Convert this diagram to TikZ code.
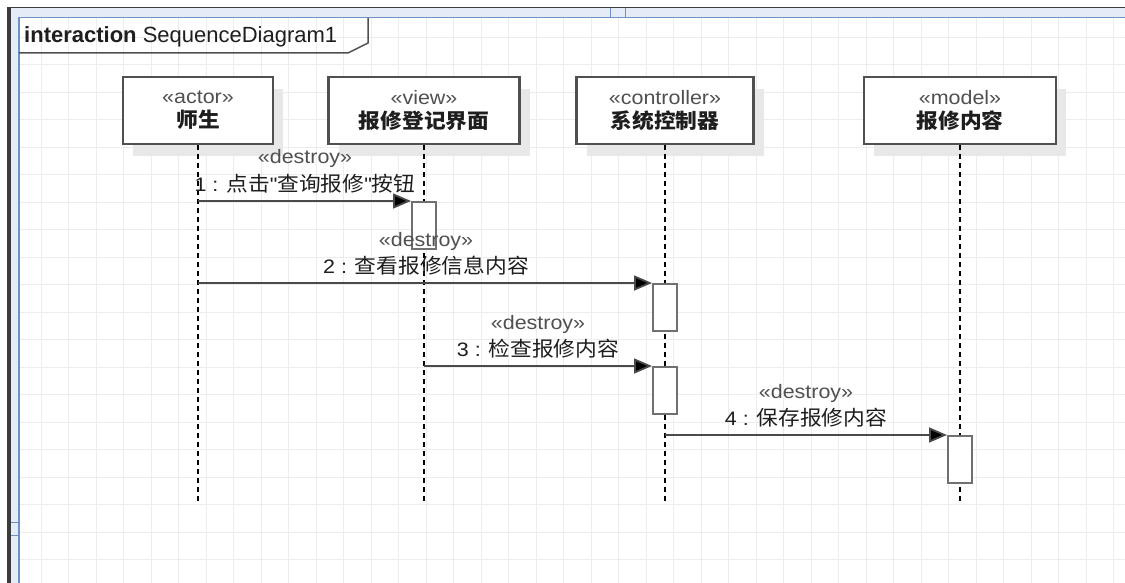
\documentclass[tikz,border=0pt]{standalone}
\usepackage{fontspec}
\setmainfont{Liberation Sans}
\newfontfamily\lat[FakeStretch=1.1]{Liberation Sans}
\newfontfamily\cjk[FakeStretch=1.06]{Noto Sans CJK SC}
\usetikzlibrary{arrows.meta,shadows}
\definecolor{gridc}{HTML}{EDEDF0}
\definecolor{bandc}{HTML}{E3ECF7}
\definecolor{bluec}{HTML}{7090C8}
\definecolor{darkc}{HTML}{3C3C3C}
\definecolor{boxc}{HTML}{505050}
\definecolor{actc}{HTML}{707070}
\definecolor{msgc}{HTML}{4A4A4A}
\definecolor{txtc}{HTML}{1E1E1E}
\definecolor{stc}{HTML}{505050}
\definecolor{shc}{HTML}{E8E8E8}
\newcommand\zhs[1]{{\cjk\fontsize{20.5}{24}\selectfont #1}}
\newcommand\las[1]{{\lat\fontsize{19.5}{24}\selectfont #1}}
\tikzset{
  head/.style={draw=boxc, line width=2.2pt, fill=white, minimum height=67pt,
    inner sep=0pt, align=center, text=txtc, font=\fontsize{20}{24}\selectfont,
    drop shadow={shadow xshift=10pt, shadow yshift=-12pt, fill=shc, opacity=1}},
  life/.style={draw=black, line width=1.3pt, dash pattern=on 5pt off 4pt},
  actbox/.style={draw=actc, line width=2pt, fill=white, minimum width=24pt,
    minimum height=47pt, inner sep=0pt, anchor=north},
  msg/.style={draw=msgc, line width=1.8pt, -{Triangle[length=18pt,width=15pt,fill=black]}},
  lab/.style={anchor=base, inner sep=0pt, text=txtc},
  stlab/.style={anchor=base, inner sep=0pt, text=stc}
}
\begin{document}
\begin{tikzpicture}[x=1pt,y=-1pt]
\useasboundingbox (0,0) rectangle (1125,583);
\fill[white] (0,0) rectangle (1125,583);
% grid
\foreach \i in {0,...,40} {\draw[gridc, line width=0.9pt] ({13.5+27.5*\i},18) -- ({13.5+27.5*\i},583);}
\foreach \j in {1,...,21} {\draw[gridc, line width=0.9pt] (18,{9.5+27.5*\j}) -- (1125,{9.5+27.5*\j});}
% window chrome
\fill[bandc] (7,7) rectangle (1125,18);
\fill[bandc] (7,7) rectangle (19,583);
\fill[darkc] (7,7) rectangle (11,583);
\draw[darkc, line width=1.5pt] (7,7.6) -- (1125,7.6);
\draw[bluec, line width=1.8pt] (19,17.5) -- (1125,17.5);
\draw[bluec, line width=1.8pt] (19,17.5) -- (19,583);
\draw[bluec, line width=1pt] (610,8) -- (610,17) (625,8) -- (625,17);
\draw[bluec, line width=1pt] (11,522) -- (18,522) (11,535) -- (18,535);
% interaction frame tab
\node[anchor=base west, inner sep=0pt, text=txtc, font=\fontsize{22}{24}\selectfont] (title) at (24,43) {\textbf{interaction} SequenceDiagram1};
\draw[boxc, line width=1.5pt] (19,53) -- (348,53) -- (368,43) -- (368,18);
% lifeline heads
\node[head, minimum width=150pt] (a) at (198,110.5) {{\color{stc}\las{«actor»}}\\\zhs{\bfseries 师生}};
\node[head, minimum width=191pt] (v) at (424,110.5) {{\color{stc}\las{«view»}}\\\zhs{\bfseries 报修登记界面}};
\node[head, minimum width=177pt] (c) at (665,110.5) {{\color{stc}\las{«controller»}}\\\zhs{\bfseries 系统控制器}};
\node[head, minimum width=192pt] (m) at (960,110.5) {{\color{stc}\las{«model»}}\\\zhs{\bfseries 报修内容}};
% lifelines
\coordinate (aend) at (198,502);
\coordinate (vend) at (424,502);
\coordinate (cend) at (665,502);
\coordinate (mend) at (960,502);
\draw[life] (a.south) -- (aend);
\draw[life] (v.south) -- (vend);
\draw[life] (c.south) -- (cend);
\draw[life] (m.south) -- (mend);
% activations
\node[actbox] (act1) at (424,201) {};
\node[actbox] (act2) at (665,283) {};
\node[actbox] (act3) at (665,366) {};
\node[actbox] (act4) at (960,435) {};
% messages
\draw[msg] (a.south |- act1.north) -- (act1.north west);
\draw[msg] (a.south |- act2.north) -- (act2.north west);
\draw[msg] (v.south |- act3.north) -- (act3.north west);
\draw[msg] (c.south |- act4.north) -- (act4.north west);
% labels
\node[stlab] (s1) at (305,164) {\las{«destroy»}};
\node[lab] (l1) at (305,191) {\las{1 : }\zhs{点击}\las{"}\zhs{查询报修}\las{"}\zhs{按钮}};
\node[stlab] (s2) at (426,246) {\las{«destroy»}};
\node[lab] (l2) at (426,273) {\las{2 : }\zhs{查看报修信息内容}};
\node[stlab] (s3) at (538,329) {\las{«destroy»}};
\node[lab] (l3) at (538,356) {\las{3 : }\zhs{检查报修内容}};
\node[stlab] (s4) at (806,398) {\las{«destroy»}};
\node[lab] (l4) at (806,425) {\las{4 : }\zhs{保存报修内容}};
\end{tikzpicture}
\end{document}
